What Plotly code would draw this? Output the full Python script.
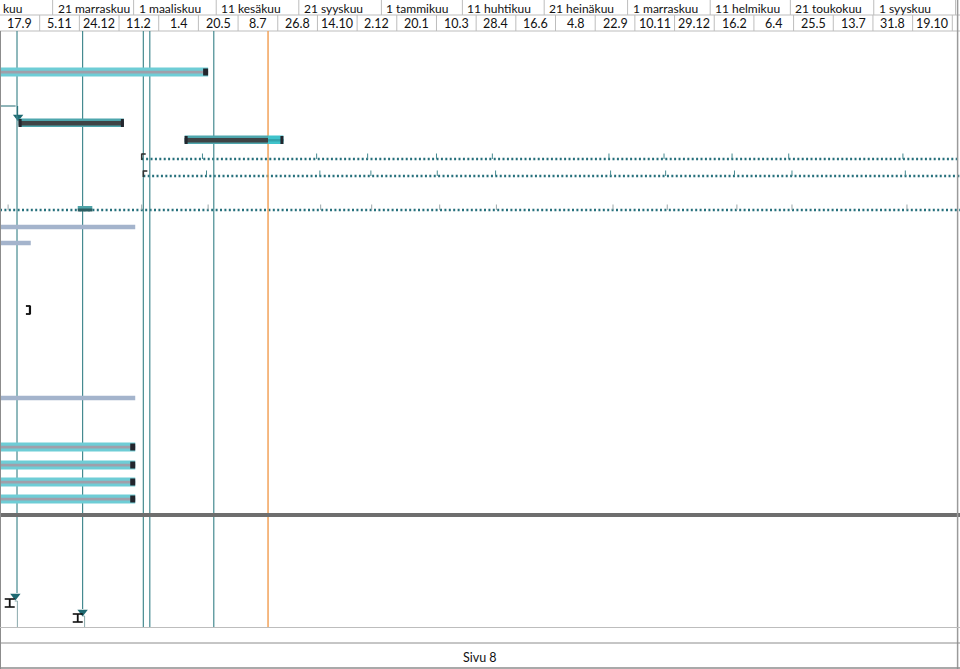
import plotly.graph_objects as go
from datetime import datetime, timedelta

# ---------------- data ----------------
RANGE_START = "2012-09-17"
RANGE_END = "2015-12-16 12:00"

MAJOR_TICKS = ["2012-08-11", "2012-11-21", "2013-03-01", "2013-06-11", "2013-09-21", "2014-01-01",
               "2014-04-11", "2014-07-21", "2014-11-01", "2015-02-11", "2015-05-21", "2015-09-01", "2015-12-11"]
MAJOR_LABELS = ["kuu", "21 marraskuu", "1 maaliskuu", "11 kesäkuu", "21 syyskuu", "1 tammikuu",
                "11 huhtikuu", "21 heinäkuu", "1 marraskuu", "11 helmikuu", "21 toukokuu", "1 syyskuu"]

MINOR_TICKS = ["2012-09-17", "2012-11-05", "2012-12-24", "2013-02-11", "2013-04-01", "2013-05-20",
               "2013-07-08", "2013-08-26", "2013-10-14", "2013-12-02", "2014-01-20", "2014-03-10",
               "2014-04-28", "2014-06-16", "2014-08-04", "2014-09-22", "2014-11-10", "2014-12-29",
               "2015-02-16", "2015-04-06", "2015-05-25", "2015-07-13", "2015-08-31", "2015-10-19", "2015-12-07"]
MINOR_LABELS = ["17.9", "5.11", "24.12", "11.2", "1.4", "20.5", "8.7", "26.8", "14.10", "2.12", "20.1",
                "10.3", "28.4", "16.6", "4.8", "22.9", "10.11", "29.12", "16.2", "6.4", "25.5", "13.7",
                "31.8", "19.10"]

# summary-style bars (cyan with grey stripe)
SUMMARY_START = ["2012-06-01", "2012-06-01", "2012-06-01", "2012-06-01", "2012-06-01"]
SUMMARY_END = ["2013-06-01", "2013-03-03", "2013-03-03", "2013-03-03", "2013-03-03"]

# task bars with progress
TASK_START = ["2012-10-10", "2013-05-03"]
TASK_END = ["2013-02-17", "2013-09-02"]
TASK_DONE = ["2013-02-17", "2013-08-14"]

# light (baseline-like) bars
LIGHT_START = ["2012-06-01", "2012-06-01", "2012-06-01"]
LIGHT_END = ["2013-03-03", "2012-10-25", "2013-03-03"]

# recurring tasks (dotted rows): start and occurrence ticks
REC_A_START = "2013-03-11"
REC_A_TICKS = ["2013-05-25", "2013-10-13", "2013-12-15", "2014-03-10", "2014-05-18", "2014-10-09",
               "2014-12-16", "2015-03-10", "2015-05-19", "2015-10-07"]
REC_B_START = "2013-03-13"
REC_B_TICKS = ["2013-05-30", "2013-10-17", "2013-12-19", "2014-03-11", "2014-05-22", "2014-10-11",
               "2014-12-18", "2015-03-13", "2015-05-23", "2015-10-10"]
REC_C_START = "2012-06-01"
REC_C_TICKS = ["2012-09-27", "2013-03-11", "2013-06-01", "2013-10-18", "2013-12-20", "2014-03-14",
               "2014-05-23", "2014-10-14", "2014-12-20", "2015-03-16", "2015-05-23", "2015-10-12"]
REC_C_BAR = ["2012-12-22", "2013-01-09"]

BRACKET_SPAN = ["2012-10-19", "2012-10-24"]

VLINES_TEAL = ["2012-10-08", "2012-12-28", "2013-03-13", "2013-03-21", "2013-06-08"]
STATUS_DATE = "2013-08-14"

MILESTONES = ["2012-10-06", "2012-12-28"]
DEADLINES = ["2012-09-29", "2012-12-22"]

FOOTER_TEXT = "Sivu 8"

# ---------------- layout constants ----------------
W, H = 960, 669
ROW_SUMMARY = [72, 447, 465, 482, 499]
ROW_TASK = [123, 140]
ROW_LIGHT = [227, 243, 398]
ROW_REC = [159, 176, 210]
ROW_BRACKET = 310
ROW_MILESTONE = [596, 612]
ROW_DEADLINE = [603, 618]

d0 = datetime.fromisoformat(RANGE_START)
d1 = datetime.fromisoformat(RANGE_END)
PX_PER_DAY = W / ((d1 - d0).total_seconds() / 86400)


def D(s):
    return datetime.fromisoformat(s) if isinstance(s, str) else s


def off(s, px):
    """date shifted by a pixel offset (for styling widths)"""
    return D(s) + timedelta(days=px / PX_PER_DAY)


TEAL = "#458a90"
DARK_TEAL = "#1e6a72"
ORANGE = "#f2a25a"
CYAN = "#6ecdd6"
GREY_STRIPE = "#a09faa"
CAP = "#23262e"
LIGHT = "#a4b4cc"
GRID = "#bdbdbd"
FONT = "Lato"

fig = go.Figure()
shapes = []
ann = []


def rect(x0, x1, y0, y1, color, layer="above"):
    shapes.append(dict(type="rect", xref="x", yref="y", x0=x0, x1=x1, y0=y0, y1=y1,
                       fillcolor=color, line=dict(width=0), layer=layer))


def line(x0, x1, y0, y1, color, width=1, xref="x", dash="solid"):
    shapes.append(dict(type="line", xref=xref, yref="y", x0=x0, x1=x1, y0=y0, y1=y1,
                       line=dict(color=color, width=width, dash=dash), layer="above"))


# ---- header ----
line(0, 1, 15, 15, GRID, xref="paper")
line(0, 1, 31, 31, GRID, xref="paper")
for t in MAJOR_TICKS[1:]:
    line(D(t), D(t), 0, 15, GRID)
for t in MINOR_TICKS[1:]:
    line(D(t), D(t), 15, 31, GRID)
for i, lab in enumerate(MAJOR_LABELS):
    x = max(D(MAJOR_TICKS[i]), d0)
    ann.append(dict(x=off(x, 3 if i else 1), y=8, xref="x", yref="y", text=lab, showarrow=False,
                    xanchor="left", yanchor="middle", font=dict(family=FONT, size=12, color="#111")))
for i, lab in enumerate(MINOR_LABELS):
    a, b = D(MINOR_TICKS[i]), D(MINOR_TICKS[i + 1])
    ann.append(dict(x=a + (b - a) / 2, y=23.5, xref="x", yref="y", text=lab, showarrow=False,
                    xanchor="center", yanchor="middle", font=dict(family=FONT, size=12.5, color="#111")))

# ---- vertical lines ----
for i, t in enumerate(VLINES_TEAL):
    yend = 628
    if i == 0:
        yend = ROW_MILESTONE[0] - 3
    if i == 1:
        yend = ROW_MILESTONE[1] - 3
    line(D(t), D(t), 31, yend, TEAL, 1.2)
line(D(STATUS_DATE), D(STATUS_DATE), 31, 628, ORANGE, 1.5)

# ---- summary bars ----
for s, e, y in zip(SUMMARY_START, SUMMARY_END, ROW_SUMMARY):
    rect(D(s), D(e), y - 4.5, y + 4.5, CYAN)
    rect(D(s), D(e), y - 1.2, y + 1.5, GREY_STRIPE)
    rect(off(e, -5), D(e), y - 3.5, y + 3.5, CAP)

# ---- task bars ----
for s, e, p, y in zip(TASK_START, TASK_END, TASK_DONE, ROW_TASK):
    rect(D(s), D(p), y - 4.5, y + 4, "#4ea6ad")
    rect(D(s), D(p), y - 2, y + 2.5, "#3f4446")
    if D(p) < D(e):
        rect(D(p), D(e), y - 4.5, y + 4, "#3fc3cb")
        rect(D(p), D(e), y - 1, y + 1.5, "#33a3ab")
    rect(D(s), off(s, 3), y - 4, y + 4, CAP)
    rect(off(e, -3), D(e), y - 4, y + 4, CAP)

# connector to first task
line(d0, off(TASK_START[0], -3), 106, 106, DARK_TEAL, 1)
line(off(TASK_START[0], -1), off(TASK_START[0], -1), 106, 116, DARK_TEAL, 1)
fig.add_trace(go.Scatter(x=[off(TASK_START[0], -0.5)], y=[117], mode="markers",
                         marker=dict(symbol="triangle-down", size=9, color=DARK_TEAL),
                         hoverinfo="skip", showlegend=False))

# ---- light bars ----
for s, e, y in zip(LIGHT_START, LIGHT_END, ROW_LIGHT):
    rect(D(s), D(e), y - 2.2, y + 2.2, LIGHT)

# ---- recurring dotted rows ----
rec = [(REC_A_START, REC_A_TICKS, "#333", TEAL), (REC_B_START, REC_B_TICKS, "#333", TEAL),
       (REC_C_START, REC_C_TICKS, None, "#9aa7a9")]
for (start, ticks, bcol, tcol), y in zip(rec, ROW_REC):
    fig.add_trace(go.Scatter(x=[max(D(start), d0), d1], y=[y, y], mode="lines",
                             line=dict(color="#27707c", width=2.4, dash="2px,2.4px"),
                             hoverinfo="skip", showlegend=False))
    for t in ticks:
        line(D(t), D(t), y - 5.5, y, tcol, 1)
    if bcol:
        line(D(start), D(start), y - 5.5, y + 1, bcol, 1.6)
        line(D(start), off(start, 4), y - 5, y - 5, bcol, 1.6)
rect(D(REC_C_BAR[0]), D(REC_C_BAR[1]), ROW_REC[2] - 4, ROW_REC[2], "#4fa3a8")
rect(D(REC_C_BAR[0]), D(REC_C_BAR[1]), ROW_REC[2] - 1.5, ROW_REC[2] + 1.5, "#2c5e62")

# ---- bracket ----
b0, b1 = D(BRACKET_SPAN[0]), D(BRACKET_SPAN[1])
line(b0, b1, ROW_BRACKET - 4, ROW_BRACKET - 4, "#111", 1.8)
line(b0, b1, ROW_BRACKET + 4, ROW_BRACKET + 4, "#111", 1.8)
line(b1, b1, ROW_BRACKET - 4.5, ROW_BRACKET + 4.5, "#111", 2.2)

# ---- thick separator ----
line(0, 1, 515, 515, "#6e6e6e", 4, xref="paper")

# ---- milestones & deadlines ----
fig.add_trace(go.Scatter(x=[D(m) for m in MILESTONES], y=ROW_MILESTONE, mode="markers",
                         marker=dict(symbol="triangle-down", size=9, color=DARK_TEAL),
                         hoverinfo="skip", showlegend=False))
for dl, y, m in zip(DEADLINES, ROW_DEADLINE, MILESTONES):
    c = D(dl)
    line(off(c, -5), off(c, 5), y - 4, y - 4, "#111", 1.6)
    line(off(c, -5), off(c, 5), y + 4, y + 4, "#111", 1.6)
    line(c, c, y - 4, y + 4, "#111", 1.8)
    line(off(c, 5), off(m, 2), y - 2, y - 2, "#8aa9ac", 1)
    line(off(m, 2), off(m, 2), y - 2, 628, "#8aa9ac", 1)

# ---- borders & footer ----
line(0, 0, 31, 669, "#8c8c8c", 2, xref="paper")
line(0.9975, 0.9975, 0, 669, "#9a9a9a", 1.5, xref="paper")
line(0, 1, 627.5, 627.5, "#bdbdbd", 1, xref="paper")
line(0, 1, 643, 643, "#8c8c8c", 1, xref="paper")
line(0, 1, 668, 668, "#8c8c8c", 1.5, xref="paper")
ann.append(dict(x=0.5, y=657, xref="paper", yref="y", text=FOOTER_TEXT, showarrow=False,
                xanchor="center", yanchor="middle", font=dict(family=FONT, size=12.5, color="#111")))

fig.update_layout(
    width=W, height=H, margin=dict(l=0, r=0, t=0, b=0),
    paper_bgcolor="white", plot_bgcolor="white", showlegend=False,
    xaxis=dict(range=[d0, d1], type="date", visible=False, domain=[0, 1], fixedrange=True),
    yaxis=dict(range=[H, 0], visible=False, domain=[0, 1], fixedrange=True),
    shapes=shapes, annotations=ann,
)
fig.write_html("out.html")
